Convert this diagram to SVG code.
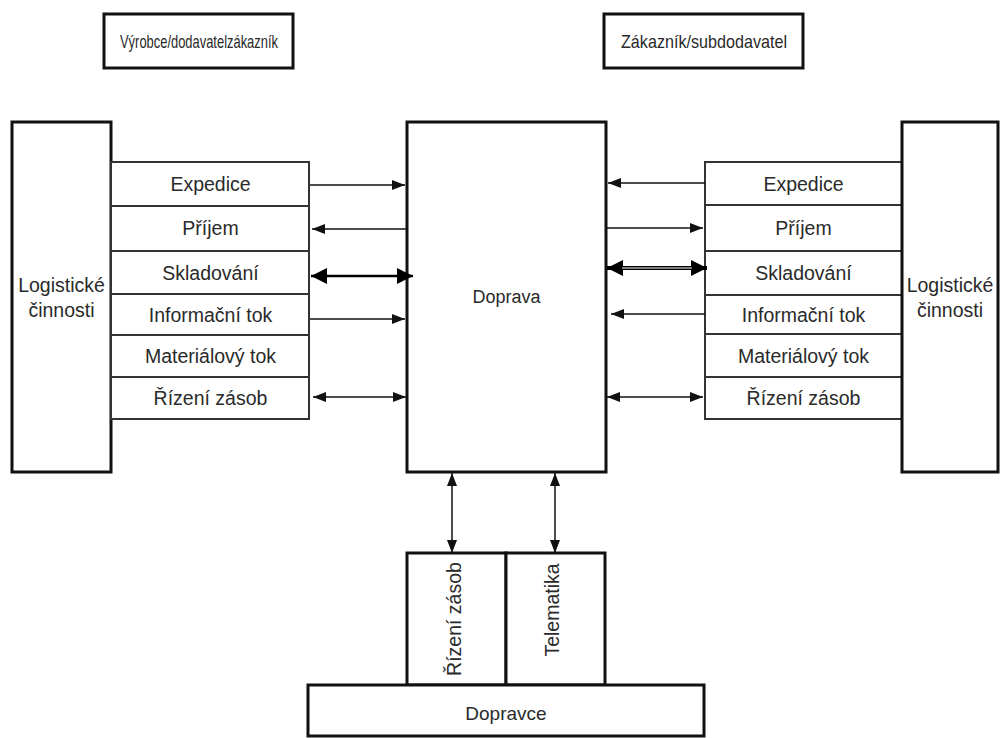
<svg xmlns="http://www.w3.org/2000/svg" width="1000" height="738" viewBox="0 0 1000 738">
<style>
.t{font-family:"Liberation Sans",Arial,sans-serif;font-size:19.5px;fill:#2a2a2a;text-anchor:middle}
.s{font-family:"Liberation Sans",Arial,sans-serif;font-size:19px;fill:#2a2a2a;text-anchor:middle}
.big{fill:#fff;stroke:#111;stroke-width:3}
.row{fill:#fff;stroke:#333;stroke-width:2}
.c{stroke:#111;stroke-width:1.5;fill:none}
.ck{stroke:#000;stroke-width:2.5;fill:none}
</style>
<defs>
<marker id="a" markerUnits="userSpaceOnUse" markerWidth="13" markerHeight="10" refX="13" refY="5" orient="auto-start-reverse"><path d="M0,0L13,5L0,10z" fill="#111"/></marker>
<marker id="b" markerUnits="userSpaceOnUse" markerWidth="16" markerHeight="16" refX="16" refY="8" orient="auto-start-reverse"><path d="M0,0L16,8L0,16z" fill="#000"/></marker>
</defs>
<rect width="1000" height="738" fill="#fff"/>

<g id="vyrobce">
<rect class="big" x="104" y="14" width="189" height="54"/>
<text class="s" x="199" y="48" textLength="158" lengthAdjust="spacingAndGlyphs">Výrobce/dodavatelzákazník</text>
</g>
<g id="zakaznik">
<rect class="big" x="604" y="14" width="199" height="54"/>
<text class="s" x="704" y="48" textLength="166" lengthAdjust="spacingAndGlyphs">Zákazník/subdodavatel</text>
</g>

<g id="logisticke-left">
<rect class="big" x="12" y="122" width="99" height="350"/>
<text class="t" x="61.5" y="292">Logistické</text>
<text class="t" x="61.5" y="317">činnosti</text>
</g>

<g id="rows-left">
<g id="l-expedice"><rect class="row" x="111" y="162" width="198" height="44"/><text class="t" x="210.5" y="191">Expedice</text></g>
<g id="l-prijem"><rect class="row" x="111" y="206" width="198" height="45"/><text class="t" x="210.5" y="235">Příjem</text></g>
<g id="l-skladovani"><rect class="row" x="111" y="251" width="198" height="43"/><text class="t" x="210.5" y="280">Skladování</text></g>
<g id="l-informacni"><rect class="row" x="111" y="294" width="198" height="41"/><text class="t" x="210.5" y="322">Informační tok</text></g>
<g id="l-materialovy"><rect class="row" x="111" y="335" width="198" height="42"/><text class="t" x="210.5" y="363">Materiálový tok</text></g>
<g id="l-rizeni"><rect class="row" x="111" y="377" width="198" height="42"/><text class="t" x="210.5" y="405">Řízení zásob</text></g>
</g>

<g id="doprava">
<rect class="big" x="407" y="122" width="199" height="350"/>
<text class="t" x="506.5" y="303" style="font-size:18px">Doprava</text>
</g>

<g id="rows-right">
<g id="r-expedice"><rect class="row" x="705" y="162" width="197" height="43"/><text class="t" x="803.5" y="191">Expedice</text></g>
<g id="r-prijem"><rect class="row" x="705" y="205" width="197" height="46"/><text class="t" x="803.5" y="235">Příjem</text></g>
<g id="r-skladovani"><rect class="row" x="705" y="251" width="197" height="44"/><text class="t" x="803.5" y="280">Skladování</text></g>
<g id="r-informacni"><rect class="row" x="705" y="295" width="197" height="39"/><text class="t" x="803.5" y="322">Informační tok</text></g>
<g id="r-materialovy"><rect class="row" x="705" y="334" width="197" height="43"/><text class="t" x="803.5" y="363">Materiálový tok</text></g>
<g id="r-rizeni"><rect class="row" x="705" y="377" width="197" height="42"/><text class="t" x="803.5" y="405">Řízení zásob</text></g>
</g>

<g id="logisticke-right">
<rect class="big" x="902" y="122" width="96" height="350"/>
<text class="t" x="950" y="292">Logistické</text>
<text class="t" x="950" y="317">činnosti</text>
</g>

<g id="b-rizeni">
<rect class="big" x="407" y="553" width="99" height="132"/>
<text class="t" transform="translate(461,619) rotate(-90)">Řízení zásob</text>
</g>
<g id="b-telematika">
<rect class="big" x="506" y="553" width="99" height="132"/>
<text class="t" transform="translate(559,610) rotate(-90)">Telematika</text>
</g>
<g id="dopravce">
<rect class="big" x="308" y="685" width="396" height="51"/>
<text class="t" x="506" y="720" style="font-size:19px">Dopravce</text>
</g>

<g id="connectors">
<line class="c" x1="310" y1="185" x2="405" y2="185" marker-end="url(#a)"/>
<line class="c" x1="407" y1="229" x2="312" y2="229" marker-end="url(#a)"/>
<line class="ck" x1="311" y1="276" x2="413" y2="276" marker-start="url(#b)" marker-end="url(#b)"/>
<line class="c" x1="310" y1="319" x2="405" y2="319" marker-end="url(#a)"/>
<line class="c" x1="313" y1="397" x2="406" y2="397" marker-start="url(#a)" marker-end="url(#a)"/>

<line class="c" x1="705" y1="183" x2="608" y2="183" marker-end="url(#a)"/>
<line class="c" x1="607" y1="228" x2="703" y2="228" marker-end="url(#a)"/>
<line x1="607" y1="268" x2="707" y2="268" stroke="#000" stroke-width="4" marker-start="url(#b)" marker-end="url(#b)"/>
<line x1="622" y1="268" x2="692" y2="268" stroke="#fff" stroke-width="1"/>
<line class="c" x1="705" y1="314" x2="611" y2="314" marker-end="url(#a)"/>
<line class="c" x1="607" y1="397" x2="703" y2="397" marker-start="url(#a)" marker-end="url(#a)"/>

<line class="c" x1="452" y1="473" x2="452" y2="553" marker-start="url(#a)" marker-end="url(#a)"/>
<line class="c" x1="555" y1="473" x2="555" y2="553" marker-start="url(#a)" marker-end="url(#a)"/>
</g>
</svg>
